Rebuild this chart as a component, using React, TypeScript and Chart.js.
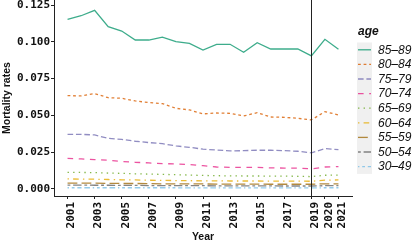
import React, { useEffect, useRef } from "react";
import { Chart, registerables } from "chart.js";

Chart.register(...registerables);

const years = [2001, 2002, 2003, 2004, 2005, 2006, 2007, 2008, 2009, 2010, 2011, 2012, 2013, 2014, 2015, 2016, 2017, 2018, 2019, 2020, 2021];
const xTickYears = [2001, 2003, 2005, 2007, 2009, 2011, 2013, 2015, 2017, 2019, 2020, 2021];
const yTickValues = [0, 0.025, 0.05, 0.075, 0.1, 0.125];
const breakYear = 2019;

const ageGroups = ["85–89", "80–84", "75–79", "70–74", "65–69", "60–64", "55–59", "50–54", "30–49"];

const rate85_89 = [0.1153, 0.1177, 0.1214, 0.1103, 0.1073, 0.1012, 0.1012, 0.1031, 0.1001, 0.0989, 0.0944, 0.0983, 0.0983, 0.0929, 0.0994, 0.0951, 0.0951, 0.0951, 0.0904, 0.1017, 0.0949];
const rate80_84 = [0.0634, 0.0632, 0.0648, 0.062, 0.0616, 0.0598, 0.0587, 0.058, 0.0548, 0.0537, 0.051, 0.0516, 0.0514, 0.0496, 0.0518, 0.0489, 0.0487, 0.048, 0.0469, 0.0525, 0.0503];
const rate75_79 = [0.0371, 0.0371, 0.0367, 0.0344, 0.0337, 0.0324, 0.0315, 0.0308, 0.0292, 0.0283, 0.027, 0.0265, 0.0258, 0.026, 0.0263, 0.0263, 0.026, 0.0256, 0.0245, 0.0274, 0.0267];
const rate70_74 = [0.0208, 0.0204, 0.0199, 0.0195, 0.0186, 0.0181, 0.0177, 0.0172, 0.017, 0.0166, 0.0158, 0.0149, 0.0147, 0.0146, 0.0146, 0.0143, 0.0142, 0.0142, 0.0136, 0.0149, 0.0152];
const rate65_69 = [0.0113, 0.0112, 0.0111, 0.0108, 0.0106, 0.0103, 0.0101, 0.0099, 0.0097, 0.0094, 0.0092, 0.009, 0.0089, 0.0088, 0.0088, 0.0087, 0.0087, 0.0086, 0.0084, 0.0093, 0.0094];
const rate60_64 = [0.0068, 0.0067, 0.0066, 0.0064, 0.0062, 0.0061, 0.0059, 0.0058, 0.0057, 0.0056, 0.0055, 0.0055, 0.0054, 0.0054, 0.0054, 0.0053, 0.0053, 0.0053, 0.0052, 0.006, 0.0061];
const rate55_59 = [0.004, 0.004, 0.0039, 0.0038, 0.0037, 0.0037, 0.0036, 0.0035, 0.0035, 0.0034, 0.0034, 0.0033, 0.0033, 0.0033, 0.0033, 0.0032, 0.0032, 0.0032, 0.0032, 0.0035, 0.0035];
const rate50_54 = [0.0026, 0.0026, 0.0025, 0.0025, 0.0024, 0.0024, 0.0023, 0.0023, 0.0022, 0.0022, 0.0022, 0.0021, 0.0021, 0.0021, 0.0021, 0.0021, 0.002, 0.002, 0.002, 0.0022, 0.0022];
const rate30_49 = [0.0008, 0.0008, 0.0008, 0.0008, 0.0008, 0.0008, 0.0008, 0.0008, 0.0008, 0.0007, 0.0007, 0.0007, 0.0007, 0.0007, 0.0007, 0.0007, 0.0007, 0.0007, 0.0007, 0.0008, 0.0008];

const seriesValues = [rate85_89, rate80_84, rate75_79, rate70_74, rate65_69, rate60_64, rate55_59, rate50_54, rate30_49];

const seriesColors = [
  "rgba(27,158,119,0.85)",
  "rgba(217,95,2,0.8)",
  "rgba(117,112,179,0.8)",
  "rgba(231,41,138,0.8)",
  "rgba(102,166,30,0.8)",
  "rgba(230,171,2,0.8)",
  "rgba(166,118,29,0.85)",
  "rgba(102,102,102,0.8)",
  "rgba(120,190,230,0.8)",
];

const u = 1.4;
const seriesDashes = [
  [],
  [2, 2],
  [4, 2],
  [4, 4],
  [1, 3],
  [1, 3, 4, 3],
  [7, 3],
  [2, 2, 6, 2],
  [1, 2, 2, 2, 3, 2, 4, 2],
].map((d) => d.map((v) => v * u));

const TEXT = "#111";

const vlinePlugin = {
  id: "vline",
  afterDatasetsDraw(chart: any) {
    const { ctx, chartArea, scales } = chart;
    const x = Math.round(scales.x.getPixelForValue(breakYear)) + 0.5;
    ctx.save();
    ctx.strokeStyle = "#222";
    ctx.lineWidth = 1;
    ctx.beginPath();
    ctx.moveTo(x, chartArea.top);
    ctx.lineTo(x, chartArea.bottom);
    ctx.stroke();
    ctx.restore();
  },
};

const legendPlugin = {
  id: "ggLegend",
  afterDraw(chart: any) {
    const { ctx } = chart;
    const left = 357;
    const keyW = 15;
    const top = 42.5;
    const rowH = 14.6;
    const n = chart.data.datasets.length;
    ctx.save();
    ctx.fillStyle = TEXT;
    ctx.font = "italic bold 12px 'Liberation Sans', Arial, sans-serif";
    ctx.textBaseline = "middle";
    ctx.textAlign = "left";
    ctx.fillText("age", 358, 32);
    ctx.fillStyle = "#f0f0f0";
    ctx.fillRect(left, top, keyW, rowH * n);
    chart.data.datasets.forEach((ds: any, i: number) => {
      const cy = top + rowH * i + rowH / 2;
      ctx.save();
      ctx.strokeStyle = ds.borderColor;
      ctx.lineWidth = ds.borderWidth;
      ctx.setLineDash(ds.borderDash || []);
      ctx.beginPath();
      ctx.moveTo(left + 1, cy);
      ctx.lineTo(left + keyW - 1, cy);
      ctx.stroke();
      ctx.restore();
      ctx.fillStyle = TEXT;
      ctx.font = "italic 12px 'Liberation Sans', Arial, sans-serif";
      ctx.textBaseline = "middle";
      ctx.fillText(ds.label, 378, cy + 0.5);
    });
    ctx.restore();
  },
};

export default function App() {
  const ref = useRef<HTMLCanvasElement | null>(null);
  useEffect(() => {
    document.body.style.margin = "0";
    const canvas = ref.current;
    if (!canvas) return;
    const datasets = ageGroups.map((label, i) => ({
      label,
      data: years.map((y, j) => ({ x: y, y: seriesValues[i][j] })),
      borderColor: seriesColors[i],
      backgroundColor: seriesColors[i],
      borderWidth: 1.3,
      borderDash: seriesDashes[i],
      pointRadius: 0,
      tension: 0,
      fill: false,
    }));
    const tickFont = { family: "'DejaVu Sans Mono', monospace", size: 11, weight: "bold" as const };
    const titleFont = { family: "'Liberation Sans', Arial, sans-serif", size: 10.5, weight: "bold" as const };
    const chart = new Chart(canvas, {
      type: "line",
      data: { datasets: datasets as any },
      options: {
        animation: false,
        responsive: false,
        maintainAspectRatio: false,
        layout: { padding: { left: 0, right: 63, top: 0, bottom: 0 } },
        plugins: { legend: { display: false }, tooltip: { enabled: false }, title: { display: false } },
        scales: {
          x: {
            type: "linear",
            min: 2000,
            max: 2022,
            afterBuildTicks: (scale: any) => {
              scale.ticks = xTickYears.map((v) => ({ value: v }));
            },
            afterFit: (scale: any) => {
              scale.height = 48;
              scale.paddingLeft = 0;
              scale.paddingRight = 0;
            },
            ticks: {
              autoSkip: false,
              minRotation: 90,
              maxRotation: 90,
              padding: 3,
              labelOffset: 4,
              color: TEXT,
              font: tickFont,
              callback: (v: any) => String(v),
            },
            grid: { display: true, drawOnChartArea: false, drawTicks: true, tickLength: 3, color: "#222" },
            border: { display: true, color: "#222", width: 1 },
            title: { display: true, text: "Year", color: TEXT, font: titleFont, padding: { top: 0, bottom: 1 } },
          },
          y: {
            type: "linear",
            min: -0.0048,
            max: 0.1284,
            afterBuildTicks: (scale: any) => {
              scale.ticks = yTickValues.map((v) => ({ value: v }));
            },
            afterFit: (scale: any) => {
              scale.width = 54;
              scale.paddingTop = 0;
              scale.paddingBottom = 0;
            },
            ticks: {
              padding: 1,
              color: TEXT,
              font: tickFont,
              callback: (v: any) => Number(v).toFixed(3),
            },
            grid: { display: true, drawOnChartArea: false, drawTicks: true, tickLength: 3, color: "#222" },
            border: { display: true, color: "#222", width: 1 },
            title: { display: true, text: "Mortality rates", color: TEXT, font: titleFont, padding: { top: 1, bottom: 0 } },
          },
        },
      },
      plugins: [vlinePlugin, legendPlugin],
    });
    return () => chart.destroy();
  }, []);
  return (
    <div style={{ width: 415, height: 244 }}>
      <canvas ref={ref} width={415} height={244} style={{ display: "block" }} />
    </div>
  );
}
